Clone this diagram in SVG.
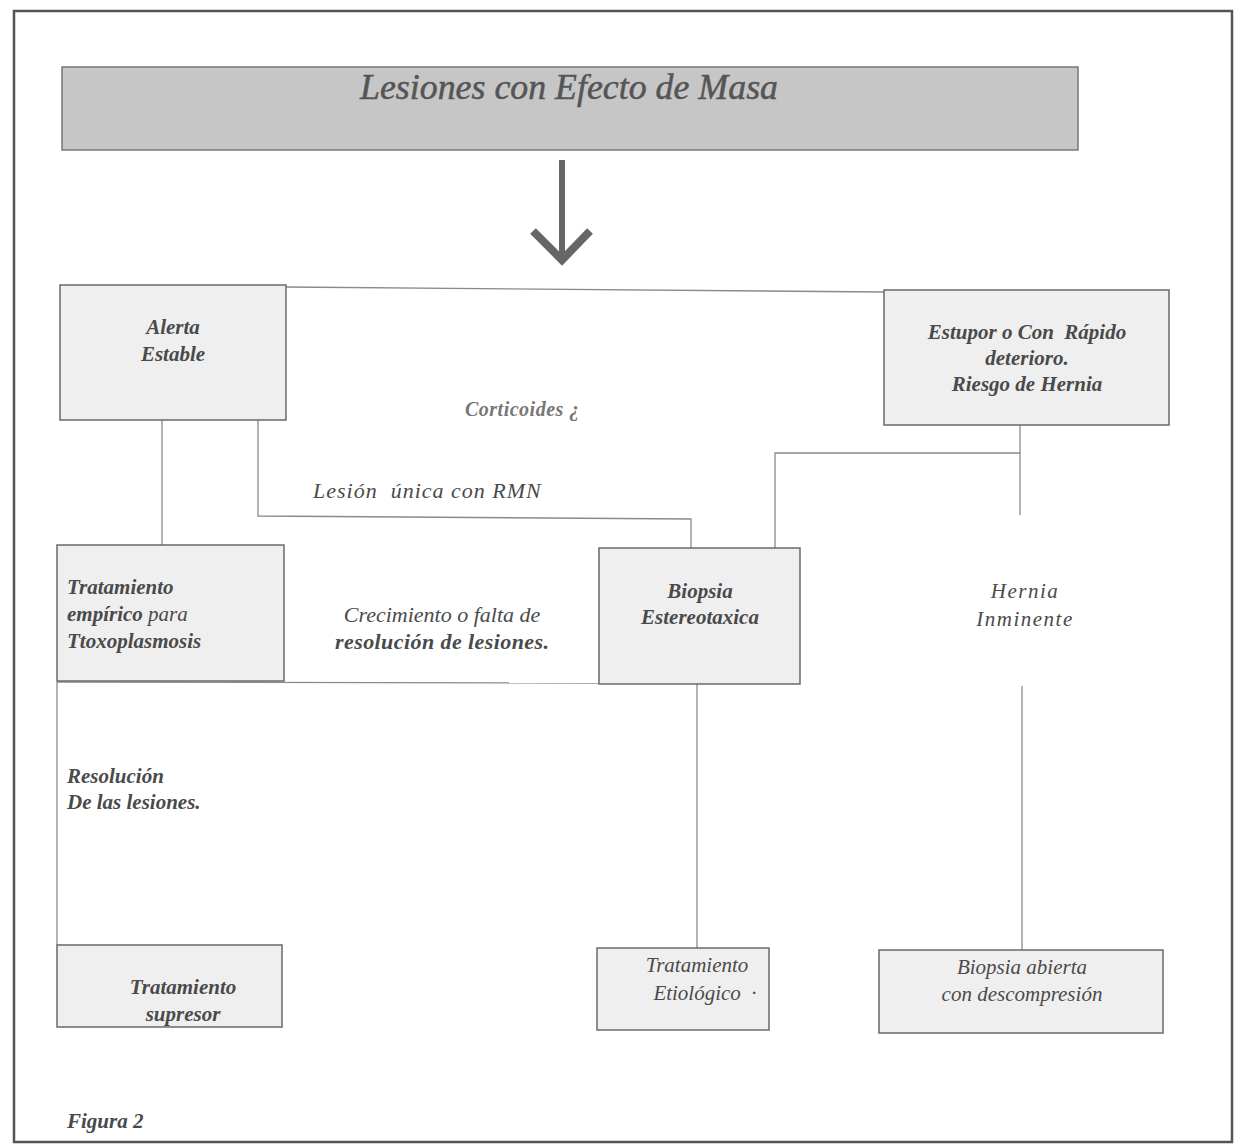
<svg xmlns="http://www.w3.org/2000/svg" width="1235" height="1148" viewBox="0 0 1235 1148">
<style>
.box{fill:#efefef;stroke:#6a6a6a;stroke-width:1.5}
.t{font-family:"Liberation Serif",serif;font-style:italic;font-size:21px;fill:#4a4a4a;white-space:pre}
.b{font-weight:bold}
.c{text-anchor:middle}
.ln{fill:none;stroke:#8a8a8a;stroke-width:1.3}
</style>
<rect x="0" y="0" width="1235" height="1148" fill="#fff"/>
<rect x="14" y="11" width="1218" height="1131" fill="none" stroke="#555" stroke-width="2.5"/>

<g id="title">
<rect x="62" y="67" width="1016" height="83" fill="#c6c6c6" stroke="#777" stroke-width="1.5"/>
<text x="569" y="99" class="t c" style="font-size:35px;fill:#555;stroke:#555;stroke-width:0.5" textLength="418" lengthAdjust="spacingAndGlyphs">Lesiones con Efecto de Masa</text>
</g>

<g id="connectors">
<line x1="562" y1="160" x2="562" y2="256" stroke="#666" stroke-width="6"/>
<polyline points="533,231 562,260 590,231" fill="none" stroke="#666" stroke-width="8" stroke-linejoin="miter"/>
<polyline class="ln" points="286,287 884,292"/>
<line class="ln" x1="162" y1="420" x2="162" y2="545"/>
<polyline class="ln" points="258,420 258,516 691,519 691,548"/>
<polyline class="ln" points="1020,425 1020,515"/>
<polyline class="ln" points="1020,453 775,453 775,548"/>
<polyline class="ln" points="57,682 599,683"/>
<line class="ln" x1="57" y1="682" x2="57" y2="945"/>
<line class="ln" x1="697" y1="684" x2="697" y2="948"/>
<line class="ln" x1="1022" y1="686" x2="1022" y2="950"/>
</g>

<g id="alerta">
<rect class="box" x="60" y="285" width="226" height="135"/>
<text class="t b c" x="173" y="334">Alerta</text>
<text class="t b c" x="173" y="361">Estable</text>
</g>

<g id="estupor">
<rect class="box" x="884" y="290" width="285" height="135"/>
<text class="t b c" x="1027" y="339">Estupor o Con  Rápido</text>
<text class="t b c" x="1027" y="365">deterioro.</text>
<text class="t b c" x="1027" y="391">Riesgo de Hernia</text>
</g>

<g id="lbl-corticoides">
<text class="t b" x="465" y="416" style="fill:#777;font-size:20px" letter-spacing="0.5">Corticoides ¿</text>
</g>
<g id="lbl-lesion">
<text class="t" x="313" y="498" style="font-size:22px" letter-spacing="1">Lesión  única con RMN</text>
</g>

<g id="tratamiento-empirico">
<rect class="box" x="57" y="545" width="227" height="136"/>
<text class="t b" x="67" y="594">Tratamiento</text>
<text class="t b" x="67" y="621">empírico <tspan font-weight="normal">para</tspan></text>
<text class="t b" x="67" y="648">Ttoxoplasmosis</text>
</g>

<g id="lbl-crecimiento">
<text class="t c" x="442" y="622" style="font-size:22px">Crecimiento o falta de</text>
<text class="t b c" x="442" y="649" style="font-size:22px" textLength="214" lengthAdjust="spacing">resolución de lesiones.</text>
</g>

<g id="biopsia">
<rect class="box" x="599" y="548" width="201" height="136"/>
<text class="t b c" x="700" y="598">Biopsia</text>
<text class="t b c" x="700" y="624">Estereotaxica</text>
</g>

<g id="lbl-hernia">
<text class="t c" x="1025" y="598" letter-spacing="1.5">Hernia</text>
<text class="t c" x="1025" y="626" letter-spacing="1.5">Inminente</text>
</g>

<g id="lbl-resolucion">
<text class="t b" x="67" y="783" style="font-size:21px">Resolución</text>
<text class="t b" x="67" y="809" style="font-size:21px">De las lesiones.</text>
</g>

<g id="tratamiento-supresor">
<rect class="box" x="57" y="945" width="225" height="82"/>
<text class="t b c" x="183" y="994">Tratamiento</text>
<text class="t b c" x="183" y="1021">supresor</text>
</g>

<g id="tratamiento-etiologico">
<rect class="box" x="597" y="948" width="172" height="82"/>
<text class="t c" x="697" y="972">Tratamiento</text>
<text class="t c" x="705" y="1000">Etiológico  ·</text>
</g>

<g id="biopsia-abierta">
<rect class="box" x="879" y="950" width="284" height="83"/>
<text class="t c" x="1022" y="974">Biopsia abierta</text>
<text class="t c" x="1022" y="1001">con descompresión</text>
</g>

<g id="figura">
<text class="t b" x="67" y="1128" style="font-size:21px">Figura 2</text>
</g>
</svg>
